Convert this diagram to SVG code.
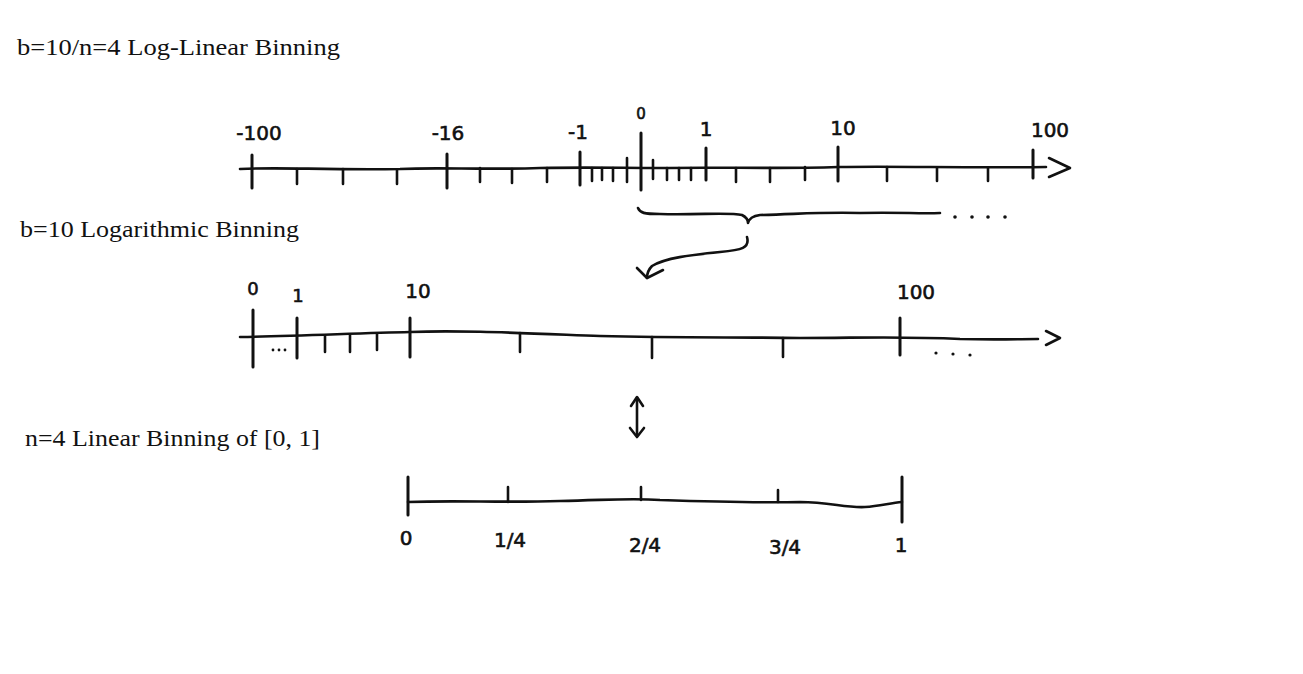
<svg xmlns="http://www.w3.org/2000/svg" width="1303" height="674" viewBox="0 0 1303 674">
<style>
.ink{stroke:#111;stroke-width:2.6;fill:none;stroke-linecap:round;stroke-linejoin:round}
.tk{stroke:#111;stroke-width:2.6;fill:none;stroke-linecap:round}
.tkb{stroke:#111;stroke-width:3;fill:none;stroke-linecap:round}
.dot{fill:#111}
.hand{font-family:"DejaVu Sans",sans-serif;font-size:20px;fill:#111;stroke:#111;stroke-width:0.6;text-anchor:middle}
.title{font-family:"Liberation Serif","DejaVu Serif",serif;font-size:24px;fill:#111}
</style>
<rect width="1303" height="674" fill="#fff"/>

<g id="titles">
<text class="title" x="17" y="55" textLength="323" lengthAdjust="spacingAndGlyphs">b=10/n=4 Log-Linear Binning</text>
<text class="title" x="20" y="237" textLength="279" lengthAdjust="spacingAndGlyphs">b=10 Logarithmic Binning</text>
<text class="title" x="25" y="446" textLength="295" lengthAdjust="spacingAndGlyphs">n=4 Linear Binning of [0, 1]</text>
</g>

<g id="loglinear-axis">
<path class="ink" d="M240,169 C280,167 320,170 400,169 C440,167 480,170 540,168 C590,167 620,168 660,168 C720,167 780,169 838,167 C900,166 960,168 1046,167"/>
<path class="ink" d="M1049,158 L1070,168 L1049,177"/>
<path class="tkb" d="M252,155 V188 M447,154 V188 M580,152 V185 M641,133 V190 M706,148 V180 M838,147 V181 M1033,150 V178"/>
<path class="tk" d="M297,169 V184 M343,169 V184 M397,170 V184 M480,168 V182 M512,169 V183 M547,168 V182 M592,168 V181 M602,168 V180 M613,168 V181 M627,158 V182 M653,160 V179 M667,168 V180 M679,168 V180 M691,168 V180 M736,168 V182 M770,168 V182 M805,167 V180 M887,167 V181 M937,168 V181 M988,168 V181"/>
<text class="hand" x="259" y="140">-100</text>
<text class="hand" x="448" y="140">-16</text>
<text class="hand" x="578" y="139">-1</text>
<text class="hand" x="641" y="119" style="font-size:15px">0</text>
<text class="hand" x="706" y="136">1</text>
<text class="hand" x="843" y="135">10</text>
<text class="hand" x="1050" y="137">100</text>
</g>

<g id="brace">
<path class="ink" d="M638,208 C640,213 644,214 660,214 C700,215 730,212 742,215 C746,217 748,220 748,223 C749,219 752,216 760,215 C800,214 820,212 860,213 C900,212 920,214 940,213"/>
<circle class="dot" cx="955" cy="217" r="1.8"/>
<circle class="dot" cx="972" cy="217" r="1.8"/>
<circle class="dot" cx="988" cy="217" r="1.8"/>
<circle class="dot" cx="1005" cy="217" r="1.8"/>
</g>

<g id="connectors">
<path class="ink" d="M747,237 C750,248 742,250 720,252 C690,255 665,258 652,266 C648,270 647,274 647,278"/>
<path class="ink" d="M637,268 L647,278 L663,270"/>
<path class="ink" d="M637,398 V436"/>
<path class="ink" d="M631,406 L637,397 L643,406"/>
<path class="ink" d="M630,428 L637,437 L644,428"/>
</g>

<g id="log-axis">
<path class="ink" d="M240,337 C300,336 360,333 410,332 C460,330 520,333 600,336 C680,338 740,337 800,338 C860,338 900,336 960,339 C1000,340 1020,339 1038,339"/>
<path class="ink" d="M1046,331 L1060,338 L1046,345"/>
<path class="tkb" d="M253,310 V367 M297,318 V358 M410,318 V357 M900,318 V355"/>
<path class="tk" d="M325,336 V352 M350,335 V352 M377,334 V350 M520,333 V352 M652,337 V358 M783,338 V357"/>
<circle class="dot" cx="273" cy="350" r="1.4"/>
<circle class="dot" cx="279" cy="350" r="1.4"/>
<circle class="dot" cx="285" cy="350" r="1.4"/>
<circle class="dot" cx="936" cy="353" r="1.6"/>
<circle class="dot" cx="953" cy="354" r="1.6"/>
<circle class="dot" cx="970" cy="355" r="1.6"/>
<text class="hand" x="253" y="295" style="font-size:18px">0</text>
<text class="hand" x="298" y="302" style="font-size:18px">1</text>
<text class="hand" x="418" y="298">10</text>
<text class="hand" x="916" y="299">100</text>
</g>

<g id="linear-axis">
<path class="ink" d="M408,502 C460,500 500,503 560,501 C610,500 630,498 660,500 C720,502 760,503 800,502 C830,502 845,508 865,507 C880,506 890,503 902,502"/>
<path class="tkb" d="M408,477 V515 M902,477 V522"/>
<path class="tk" d="M508,487 V502 M641,487 V500 M778,490 V502"/>
<text class="hand" x="406" y="545">0</text>
<text class="hand" x="510" y="547">1/4</text>
<text class="hand" x="645" y="552">2/4</text>
<text class="hand" x="785" y="554">3/4</text>
<text class="hand" x="901" y="552">1</text>
</g>
</svg>
